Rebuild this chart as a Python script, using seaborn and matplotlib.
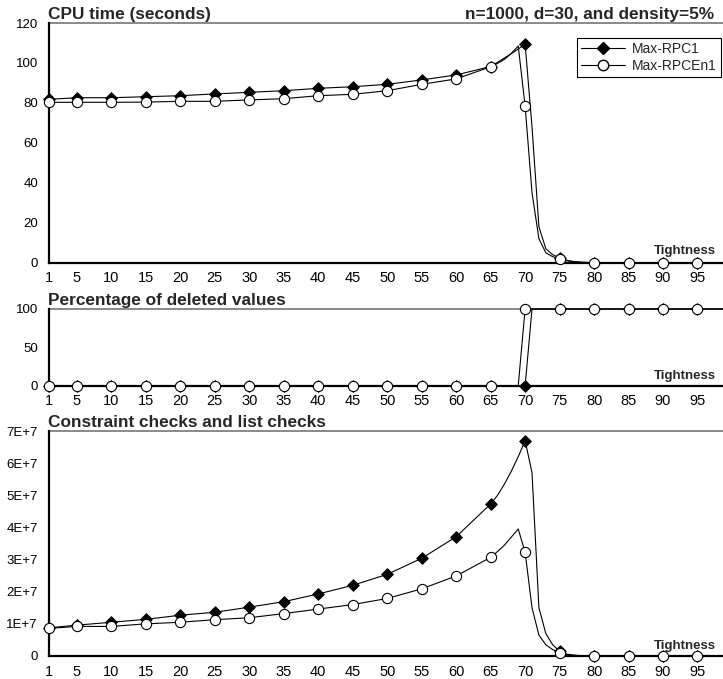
import matplotlib
matplotlib.use("Agg")
import matplotlib.pyplot as plt
from matplotlib.lines import Line2D
import seaborn as sns
import pandas as pd

# ---------------- data ----------------
tightness = [1, 5, 10, 15, 20, 25, 30, 35, 40, 45, 50, 55, 60, 65,
             66, 67, 68, 69, 70, 71, 72, 73, 74, 75, 76, 77, 78, 79, 80,
             85, 90, 95, 99]
marker_x = [1, 5, 10, 15, 20, 25, 30, 35, 40, 45, 50, 55, 60, 65,
            70, 75, 80, 85, 90, 95]
series_names = ["Max-RPC1", "Max-RPCEn1"]

cpu_rpc1 = [81.8, 82.6, 82.6, 83.1, 83.6, 84.5, 85.3, 86.1, 87.3, 88.1,
            89.3, 91.5, 94.0, 98.2, 100.3, 102.5, 104.7, 107.0, 109.3,
            68.0, 18.0, 7.0, 4.0, 2.5, 1.2, 0.6, 0.3, 0.1, 0.0,
            0.0, 0.0, 0.0, 0.0]
cpu_rpcen1 = [80.3, 80.3, 80.3, 80.4, 80.8, 80.8, 81.5, 82.1, 83.6, 84.3,
              86.1, 89.3, 92.0, 98.1, 99.8, 101.8, 104.8, 108.5, 78.4,
              35.0, 12.0, 5.0, 3.0, 2.0, 1.0, 0.5, 0.2, 0.1, 0.0,
              0.0, 0.0, 0.0, 0.0]

pct_rpc1 = [0, 0, 0, 0, 0, 0, 0, 0, 0, 0, 0, 0, 0, 0,
            0, 0, 0, 0, 0, 100, 100, 100, 100, 100, 100, 100, 100, 100, 100,
            100, 100, 100, 100]
pct_rpcen1 = [0, 0, 0, 0, 0, 0, 0, 0, 0, 0, 0, 0, 0, 0,
              0, 0, 0, 0, 100, 100, 100, 100, 100, 100, 100, 100, 100, 100, 100,
              100, 100, 100, 100]

cc_rpc1 = [0.88e7, 0.96e7, 1.05e7, 1.14e7, 1.27e7, 1.36e7, 1.52e7, 1.69e7,
           1.93e7, 2.20e7, 2.54e7, 3.04e7, 3.71e7, 4.73e7,
           5.00e7, 5.35e7, 5.75e7, 6.20e7, 6.70e7, 5.70e7, 1.50e7, 0.70e7,
           0.35e7, 0.15e7, 0.06e7, 0.03e7, 0.01e7, 0.005e7, 0.0,
           0.0, 0.0, 0.0, 0.0]
cc_rpcen1 = [0.86e7, 0.92e7, 0.92e7, 1.00e7, 1.05e7, 1.13e7, 1.19e7, 1.32e7,
             1.46e7, 1.60e7, 1.79e7, 2.09e7, 2.49e7, 3.07e7,
             3.25e7, 3.45e7, 3.70e7, 3.95e7, 3.23e7, 1.50e7, 0.65e7, 0.35e7,
             0.20e7, 0.10e7, 0.05e7, 0.02e7, 0.01e7, 0.005e7, 0.0,
             0.0, 0.0, 0.0, 0.0]

cpu_yticks = [0, 20, 40, 60, 80, 100, 120]
pct_yticks = [0, 50, 100]
cc_yticks = [0, 1e7, 2e7, 3e7, 4e7, 5e7, 6e7, 7e7]
cc_ylabels = ["0", "1E+7", "2E+7", "3E+7", "4E+7", "5E+7", "6E+7", "7E+7"]

titles = ["CPU time (seconds)", "Percentage of deleted values",
          "Constraint checks and list checks"]
subtitle = "n=1000, d=30, and density=5%"

# ---------------- style ----------------
sns.set_style("white")
plt.rcParams["font.family"] = ["Liberation Sans", "DejaVu Sans"]

W, H = 723, 679
fig = plt.figure(figsize=(W / 100, H / 100), dpi=100)

left = 49.4 / W
width = 1 - left
def pos(top_px, bot_px):
    return [left, 1 - bot_px / H, width, (bot_px - top_px) / H]

ax1 = fig.add_axes(pos(23, 262.7))
ax2 = fig.add_axes(pos(309, 385.7))
ax3 = fig.add_axes(pos(431, 656))

markers = {"Max-RPC1": "D", "Max-RPCEn1": "o"}
faces = {"Max-RPC1": "black", "Max-RPCEn1": "white"}
sizes = {"Max-RPC1": 34, "Max-RPCEn1": 54}

def panel(ax, v1, v2, yticks, ylabels, ymax, tight_baseline_px):
    df = pd.DataFrame({
        "Tightness": tightness * 2,
        "value": v1 + v2,
        "algorithm": [series_names[0]] * len(tightness) + [series_names[1]] * len(tightness),
    })
    sns.lineplot(data=df, x="Tightness", y="value", hue="algorithm",
                 palette={n: "black" for n in series_names}, estimator=None,
                 sort=False, linewidth=0.8, legend=False, ax=ax,
                 clip_on=False, zorder=4)
    for z, name in enumerate(series_names):
        sub = df[(df["algorithm"] == name) & (df["Tightness"].isin(marker_x))]
        sns.scatterplot(data=sub, x="Tightness", y="value", marker=markers[name],
                        color=faces[name], edgecolor="black", linewidth=0.8,
                        s=sizes[name], legend=False, ax=ax, clip_on=False,
                        zorder=5 + z)
    ax.set_xlim(1, 98.7)
    ax.set_ylim(0, ymax)
    ax.set_xticks(marker_x)
    ax.set_xticklabels([str(v) for v in marker_x])
    ax.set_yticks(yticks)
    ax.set_yticklabels(ylabels)
    ax.set_xlabel("")
    ax.set_ylabel("")
    ax.tick_params(axis="both", direction="inout", length=6.5, width=1,
                   color="black", labelcolor="black")
    ax.tick_params(axis="x", labelsize=10.5, pad=3)
    ax.tick_params(axis="y", labelsize=9.5, pad=5)
    for s in ["left", "bottom"]:
        ax.spines[s].set_color("black")
        ax.spines[s].set_linewidth(1.6)
        ax.spines[s].set_zorder(3)
    ax.spines["top"].set_color("#808080")
    ax.spines["top"].set_linewidth(1.3)
    ax.spines["right"].set_visible(False)
    ax.set_facecolor("white")
    fig.text(716 / W, 1 - tight_baseline_px / H, "Tightness", ha="right",
             va="baseline", fontsize=9.5, fontweight="bold")

panel(ax1, cpu_rpc1, cpu_rpcen1, cpu_yticks, [str(v) for v in cpu_yticks], 120, 254)
panel(ax2, pct_rpc1, pct_rpcen1, pct_yticks, [str(v) for v in pct_yticks], 100, 378.5)
panel(ax3, cc_rpc1, cc_rpcen1, cc_yticks, cc_ylabels, 7e7, 648.5)

fig.text(48 / W, 1 - 19 / H, titles[0], ha="left", va="baseline",
         fontsize=12.4, fontweight="bold")
fig.text(714 / W, 1 - 19 / H, subtitle, ha="right", va="baseline",
         fontsize=12.4, fontweight="bold")
fig.text(48 / W, 1 - 305 / H, titles[1], ha="left", va="baseline",
         fontsize=12.4, fontweight="bold")
fig.text(48 / W, 1 - 427 / H, titles[2], ha="left", va="baseline",
         fontsize=12.4, fontweight="bold")

handles = [
    Line2D([], [], color="black", lw=0.8, marker="D", markersize=6.2,
           markerfacecolor="black", markeredgecolor="black"),
    Line2D([], [], color="black", lw=0.8, marker="o", markersize=7.5,
           markerfacecolor="white", markeredgecolor="black"),
]
leg = fig.legend(handles, series_names, loc="upper right",
                 bbox_to_anchor=(721 / W, 1 - 38 / H), fontsize=10,
                 frameon=True, fancybox=False, framealpha=1,
                 edgecolor="black", handlelength=3.2, handletextpad=0.5,
                 labelspacing=0.2, borderpad=0.3, borderaxespad=0)
leg.get_frame().set_linewidth(0.8)

fig.savefig("out.png", dpi=100, facecolor="white")
